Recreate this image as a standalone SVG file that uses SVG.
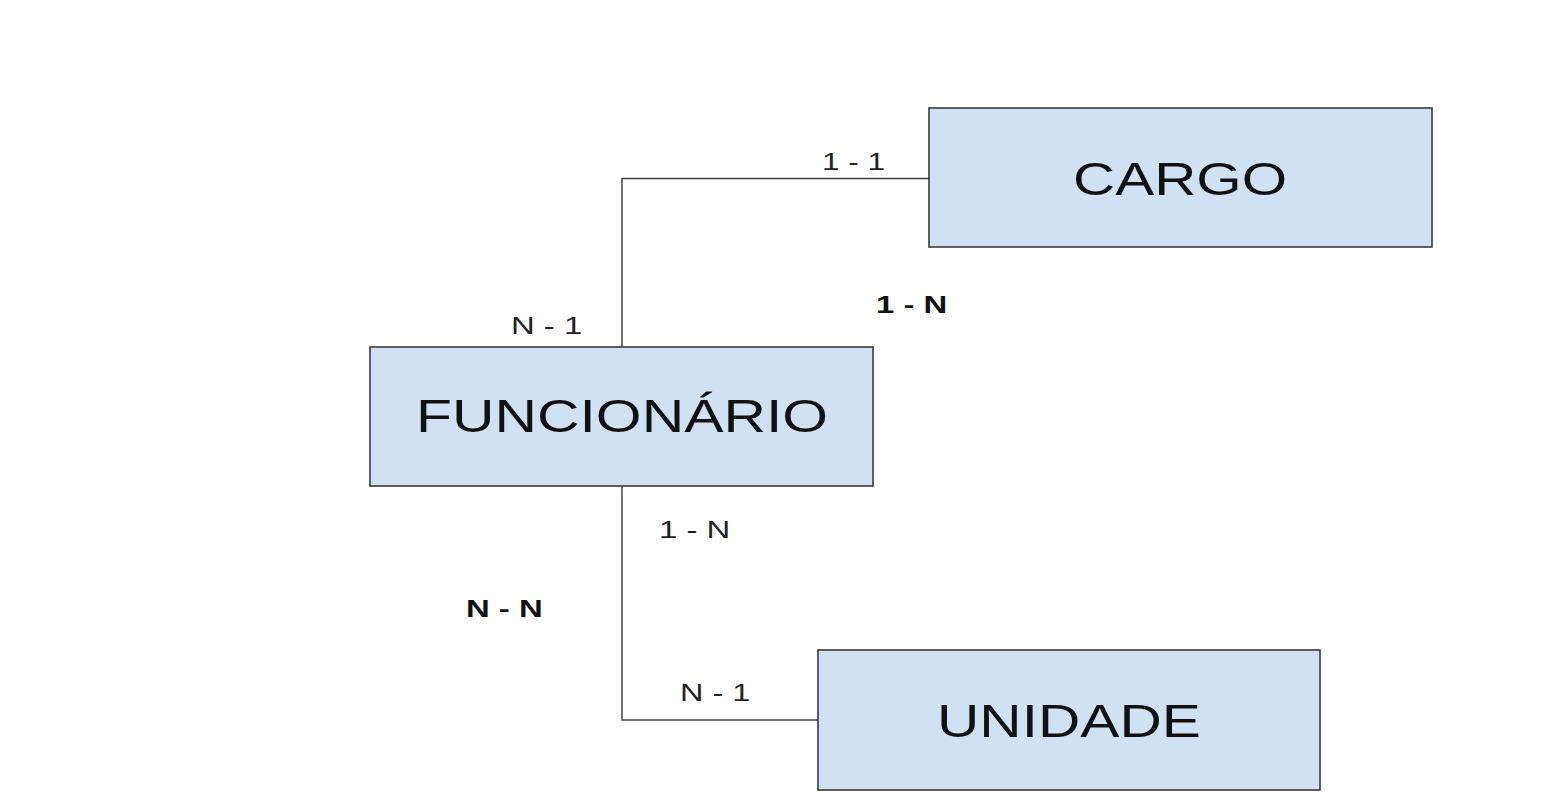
<svg xmlns="http://www.w3.org/2000/svg" width="1542" height="808" viewBox="0 0 1542 808">
<style>
.box{fill:#d0e1f3;stroke:#3a3a3a;stroke-width:1.6}
.big{font-family:"Liberation Sans",Arial,sans-serif;font-size:46px;fill:#111}
.lbl{font-family:"Liberation Sans",Arial,sans-serif;font-size:23px;fill:#222}
.b{font-weight:bold;fill:#111}
.conn{fill:none;stroke:#444;stroke-width:1.5}
</style>
<rect width="1542" height="808" fill="#ffffff"/>
<g id="connectors">
<path class="conn" d="M622,347 V178.5 H929"/>
<path class="conn" d="M622,486 V720 H818"/>
</g>
<g id="cargo">
<rect class="box" x="929" y="108" width="503" height="139"/>
<text class="big" transform="translate(1073,195) scale(1.27,1)" x="0" y="0">CARGO</text>
</g>
<g id="funcionario">
<rect class="box" x="370" y="347" width="503" height="139"/>
<text class="big" transform="translate(416,432) scale(1.28,1)" x="0" y="0">FUNCIONÁRIO</text>
</g>
<g id="unidade">
<rect class="box" x="818" y="650" width="502" height="140"/>
<text class="big" transform="translate(937,737) scale(1.275,1)" x="0" y="0">UNIDADE</text>
</g>
<g id="labels">
<text class="lbl" transform="translate(822,170) scale(1.37,1)">1 - 1</text>
<text class="lbl" transform="translate(511,334) scale(1.43,1)">N - 1</text>
<text class="lbl b" transform="translate(876,313) scale(1.43,1)">1 - N</text>
<text class="lbl" transform="translate(659,538) scale(1.43,1)">1 - N</text>
<text class="lbl b" transform="translate(466,617) scale(1.43,1)">N - N</text>
<text class="lbl" transform="translate(680,701) scale(1.41,1)">N - 1</text>
</g>
</svg>
